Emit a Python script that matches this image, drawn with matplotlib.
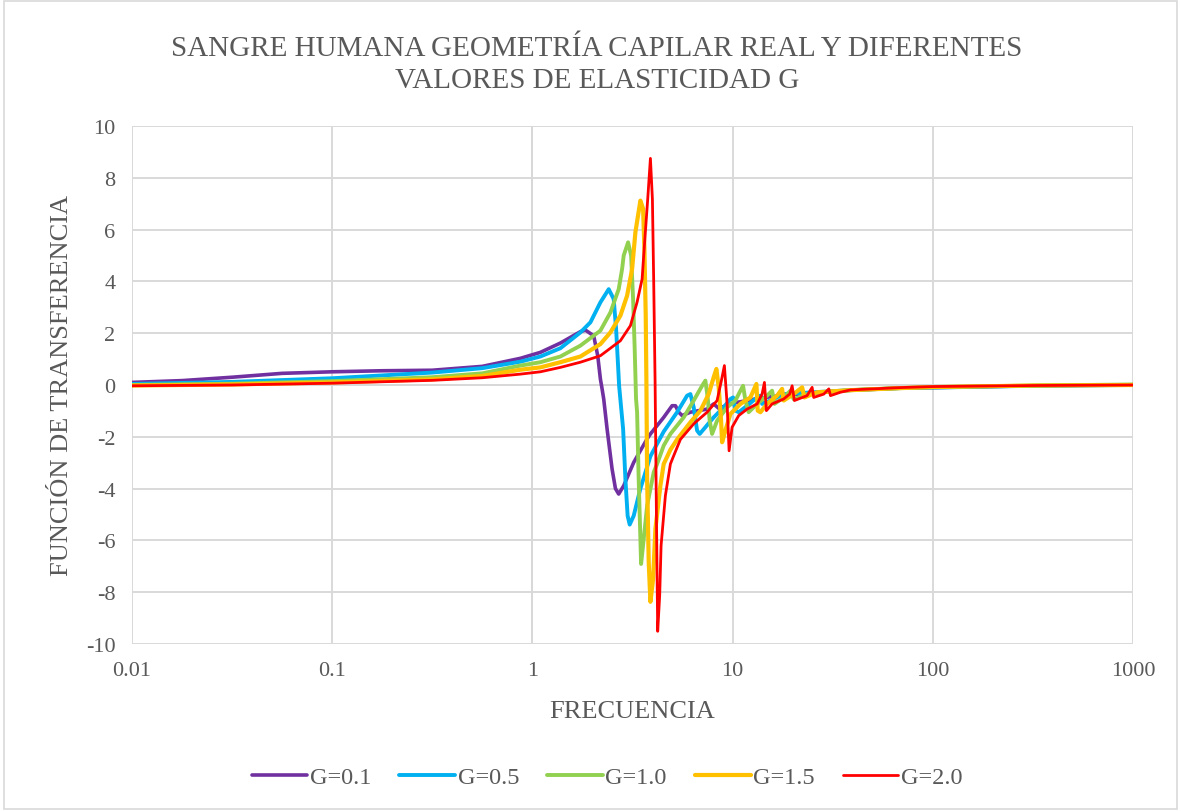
import matplotlib
matplotlib.use("Agg")
from matplotlib import pyplot as plt
from matplotlib.ticker import FixedLocator, NullLocator

# values (frequency, transfer function)
f_01 = [0.01, 0.0178, 0.0316, 0.0562, 0.1, 0.178, 0.316, 0.562, 0.871, 1.096, 1.38, 1.737,
        1.84, 2.024, 2.12, 2.186, 2.229, 2.271, 2.361, 2.5, 2.599, 2.698, 2.858, 3.206,
        3.741, 3.886, 4.527, 4.987, 5.181, 5.382, 5.596, 6.155, 7.457, 8.045, 8.522,
        10.06, 11.82, 13.77, 17.99, 25.4, 38.76, 68.9, 100, 318, 1000]
g_01 = [0.10, 0.17, 0.3, 0.45, 0.51, 0.55, 0.57, 0.72, 1.03, 1.26, 1.62, 2.06,
        2.12, 1.9, 1.13, 0.23, -0.15, -0.54, -1.7, -3.24, -4.0, -4.21, -3.89, -2.99,
        -2.08, -1.89, -1.25, -0.8, -0.8, -1.05, -1.18, -1.05, -0.93, -0.73, -0.9,
        -0.7, -0.6, -0.5, -0.4, -0.3, -0.2, -0.12, -0.1, -0.03, 0.0]

f_05 = [0.01, 0.0316, 0.1, 0.316, 0.562, 0.871, 1.096, 1.38, 1.737, 1.949, 2.186, 2.405,
        2.547, 2.619, 2.668, 2.711, 2.839, 2.914, 2.99, 3.062, 3.206, 3.463, 3.886, 4.527,
        5.283, 5.927, 6.155, 6.393, 6.648, 6.85, 7.312, 8.045, 9.027, 9.75, 10.06, 10.33,
        10.73, 11.82, 13.26, 13.77, 14.04, 16.05, 17.99, 25.4, 38.76, 68.9, 100, 318, 1000]
g_05 = [0.04, 0.12, 0.26, 0.48, 0.65, 0.9, 1.1, 1.42, 2.03, 2.42, 3.19, 3.7,
        3.32, 2.16, 1.0, -0.03, -1.7, -3.63, -5.05, -5.39, -5.05, -4.0, -2.75, -1.8,
        -1.05, -0.41, -0.35, -0.86, -1.76, -1.89, -1.63, -1.25, -0.86, -0.54, -0.48, -0.99,
        -1.05, -0.8, -0.48, -0.41, -0.73, -0.54, -0.35, -0.28, -0.2, -0.12, -0.1, -0.03, 0.0]

f_10 = [0.01, 0.0316, 0.1, 0.316, 0.562, 0.871, 1.096, 1.38, 1.737, 2.186, 2.453, 2.698,
        2.806, 2.858, 3.006, 3.112, 3.184, 3.243, 3.294, 3.334, 3.395, 3.491, 3.597, 3.741,
        4.036, 4.196, 4.527, 4.89, 5.699, 6.393, 7.041, 7.312, 7.508, 7.683, 7.898, 8.366,
        9.387, 10.33, 10.94, 11.28, 11.59, 12.03, 13.26, 14.87, 15.75, 16.18, 17.99, 19.44,
        20.19, 23.56, 30.83, 38.76, 68.9, 100, 318, 1000]
g_10 = [0.0, 0.05, 0.15, 0.3, 0.45, 0.75, 0.88, 1.1, 1.52, 2.1, 2.8, 3.7,
        4.48, 5.0, 5.51, 5.0, 3.32, 1.39, -0.54, -1.05, -3.63, -6.91, -5.95, -4.66,
        -3.37, -3.05, -2.34, -1.89, -1.25, -0.6, -0.03, 0.17, -0.48, -1.38, -1.89, -1.38,
        -0.86, -0.6, -0.22, -0.03, -0.6, -1.05, -0.73, -0.41, -0.22, -0.73, -0.48, -0.22,
        -0.55, -0.35, -0.25, -0.2, -0.12, -0.08, -0.02, 0.02]

f_15 = [0.01, 0.0316, 0.1, 0.316, 0.562, 0.871, 1.096, 1.38, 1.737, 2.186, 2.453, 2.752,
        2.972, 3.148, 3.27, 3.463, 3.572, 3.627, 3.682, 3.711, 3.741, 3.811, 3.886, 4.008,
        4.115, 4.358, 4.527, 4.89, 5.283, 6.155, 6.905, 7.595, 8.045, 8.299, 8.522, 8.76,
        8.862, 9.204, 9.75, 10.94, 12.27, 13.15, 13.35, 13.77, 14.87, 16.69, 17.67, 17.99,
        20.19, 22.25, 22.84, 26.43, 30.83, 38.76, 68.9, 100, 318, 1000]
g_15 = [-0.02, 0.02, 0.1, 0.22, 0.35, 0.59, 0.68, 0.88, 1.1, 1.58, 2.03, 2.68,
        3.45, 4.48, 5.9, 7.12, 6.8, 5.25, 2.68, 0.1, -3.63, -6.85, -8.37, -7.49,
        -5.56, -3.89, -3.05, -2.5, -2.1, -1.44, -0.99, -0.35, 0.3, 0.62, -0.09, -1.38,
        -2.21, -1.76, -1.12, -0.73, -0.48, 0.04, -0.99, -1.05, -0.73, -0.41, -0.15, -0.6,
        -0.35, -0.09, -0.48, -0.28, -0.25, -0.2, -0.12, -0.08, -0.02, 0.0]

f_20 = [0.01, 0.0316, 0.1, 0.316, 0.562, 0.871, 1.096, 1.38, 1.737, 2.186, 2.752, 3.087,
        3.334, 3.532, 3.597, 3.767, 3.886, 3.976, 4.036, 4.101, 4.115, 4.163, 4.225, 4.323,
        4.393, 4.616, 4.89, 5.08, 5.488, 6.393, 7.457, 8.366, 8.791, 9.1, 9.387, 9.605,
        9.942, 10.73, 11.82, 13.26, 14.04, 14.42, 14.75, 15.75, 17.99, 19.28, 19.83, 20.36,
        23.56, 24.96, 25.42, 28.55, 30.24, 30.83, 34.56, 38.76, 68.9, 100, 318, 1000]
g_20 = [-0.03, 0.0, 0.07, 0.18, 0.28, 0.42, 0.51, 0.68, 0.88, 1.13, 1.71, 2.29,
        3.2, 4.09, 5.0, 7.18, 8.75, 7.18, 3.97, 0.1, -1.05, -4.92, -9.51, -8.13,
        -6.2, -4.27, -3.05, -2.73, -2.1, -1.5, -1.05, -0.6, 0.17, 0.75, -0.73, -2.54,
        -1.63, -1.18, -0.93, -0.73, -0.35, 0.1, -0.99, -0.73, -0.54, -0.35, -0.03, -0.6,
        -0.41, -0.09, -0.48, -0.35, -0.15, -0.41, -0.28, -0.19, -0.1, -0.06, -0.02, 0.0]

series = [("G=0.1", f_01, g_01, "#7030A0", 2.6),
          ("G=0.5", f_05, g_05, "#00B0F0", 2.8),
          ("G=1.0", f_10, g_10, "#92D050", 2.8),
          ("G=1.5", f_15, g_15, "#FFC000", 3.0),
          ("G=2.0", f_20, g_20, "#FF0000", 2.0)]

x_ticks = [0.01, 0.1, 1, 10, 100, 1000]
x_labels = ["0.01", "0.1", "1", "10", "100", "1000"]
y_ticks = [-10, -8, -6, -4, -2, 0, 2, 4, 6, 8, 10]

txt = "#595959"
grid = "#D9D9D9"
plt.rcParams["font.family"] = ["Liberation Serif", "DejaVu Serif"]

fig = plt.figure(figsize=(11.81, 8.12), dpi=100)
ax = fig.add_axes([132 / 1181, 1 - 645 / 812, 1001 / 1181, 518 / 812])

for name, fx, gy, col, lw in series:
    ax.plot(fx, gy, color=col, lw=lw, label=name, solid_joinstyle="round",
            solid_capstyle="round", zorder=3)

ax.set_xscale("log")
ax.set_xlim(0.01, 1000)
ax.set_ylim(-10, 10)
ax.xaxis.set_major_locator(FixedLocator(x_ticks))
ax.xaxis.set_minor_locator(NullLocator())
ax.set_xticklabels(x_labels)
ax.set_yticks(y_ticks)
ax.set_yticklabels([str(v) for v in y_ticks])
ax.tick_params(length=0, labelsize=16, labelcolor=txt, pad=12)
ax.grid(True, color=grid, lw=1.4, zorder=0)
for s in ax.spines.values():
    s.set_visible(False)
# axis lines cross at x=1 and y=0
ax.axvline(1, color="#BFBFBF", lw=1.4, zorder=1)
ax.axhline(0, color="#BFBFBF", lw=1.4, zorder=1)

fig.text(597 / 1181, 1 - 65 / 812,
         "SANGRE HUMANA GEOMETRÍA CAPILAR REAL Y DIFERENTES\nVALORES DE ELASTICIDAD G",
         ha="center", va="center", fontsize=21, color=txt, linespacing=1.3)
fig.text(632 / 1181, 1 - 712 / 812, "FRECUENCIA", ha="center", va="center",
         fontsize=19, color=txt)
fig.text(62 / 1181, 1 - 386 / 812, "FUNCIÓN DE TRANSFERENCIA", ha="center", va="center",
         rotation=90, fontsize=19, color=txt)

leg = fig.legend(loc="center", bbox_to_anchor=(607 / 1181, 1 - 778 / 812), ncol=5,
                 frameon=False, fontsize=17.5, handlelength=2.3, handletextpad=0.1,
                 columnspacing=1.15, labelcolor=txt)

# chart border
fig.add_artist(plt.Rectangle((0.003, 0.003), 0.994, 0.994, transform=fig.transFigure,
                             fill=False, edgecolor=grid, lw=1.2))

fig.savefig("out.png", dpi=100)
